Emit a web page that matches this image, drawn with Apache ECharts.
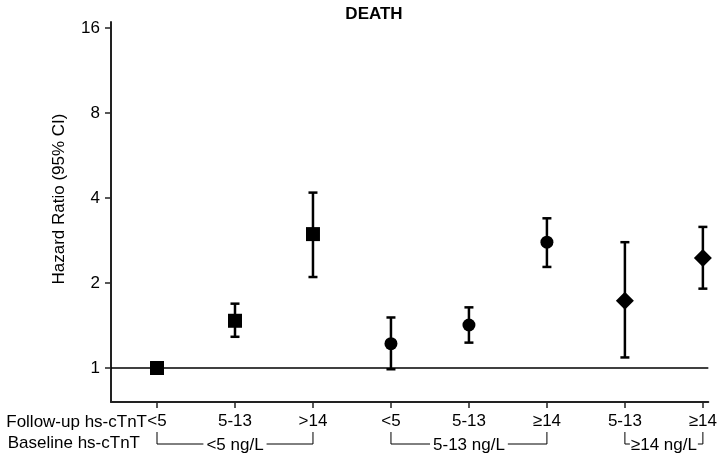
<!DOCTYPE html>
<html>
<head>
<meta charset="utf-8">
<script src="https://cdn.jsdelivr.net/npm/echarts@6/dist/echarts.min.js"></script>
<style>html,body{margin:0;padding:0;background:#fff}#c{width:720px;height:455px}</style>
</head>
<body>
<div id="c"></div>
<script>
// ---- data ----
const xPos = [1, 2, 3, 4, 5, 6, 7, 8];
const followUpLabels = ['<5', '5-13', '>14', '<5', '5-13', '≥14', '5-13', '≥14'];
const hazardRatio = [1.00, 1.47, 2.98, 1.22, 1.42, 2.79, 1.73, 2.45];
const ciLower = [null, 1.29, 2.10, 0.99, 1.23, 2.28, 1.09, 1.91];
const ciUpper = [null, 1.69, 4.18, 1.51, 1.64, 3.39, 2.79, 3.16];
const baselineGroup = [0, 0, 0, 1, 1, 1, 2, 2];
const baselineLabels = ['<5 ng/L', '5-13 ng/L', '≥14 ng/L'];
const groupSymbols = ['rect', 'circle', 'diamond'];
const groupSizes = [14, 13, 18];
const yTickValues = [1, 2, 4, 8, 16];

const FONT = 'Liberation Sans, Arial, sans-serif';
const FS = 17;
const chart = echarts.init(document.getElementById('c'), null, {renderer: 'canvas'});

const scatterSeries = [0, 1, 2].map(g => ({
  type: 'scatter',
  symbol: groupSymbols[g],
  symbolSize: groupSizes[g],
  itemStyle: {color: '#000', opacity: 1},
  z: 5,
  data: xPos.map((x, i) => baselineGroup[i] === g ? [x, hazardRatio[i]] : null).filter(d => d),
  markLine: g === 0 ? {
    silent: true, symbol: 'none', label: {show: false},
    lineStyle: {color: '#000', width: 1.5, type: 'solid', opacity: 1},
    data: [{yAxis: 1}]
  } : undefined
}));

const errData = xPos.map((x, i) => ciLower[i] == null ? null : [x, ciLower[i], ciUpper[i]]).filter(d => d);

chart.setOption({
  animation: false,
  title: {
    text: 'DEATH', left: 369, top: 1, textAlign: 'center',
    textStyle: {fontFamily: FONT, fontSize: 17, fontWeight: 'bold', color: '#000'}
  },
  grid: {left: 111, right: 10, top: 22, bottom: 53},
  xAxis: {
    type: 'value', min: 0.41, max: 8.07,
    splitLine: {show: false},
    axisLine: {show: true, lineStyle: {color: '#222', width: 2}},
    axisTick: {show: true, length: 6, lineStyle: {color: '#222', width: 1.5}, customValues: xPos},
    axisLabel: {
      customValues: xPos, margin: 11, color: '#000', fontFamily: FONT, fontSize: FS,
      formatter: v => followUpLabels[Math.round(v) - 1] || ''
    }
  },
  yAxis: {
    type: 'log', logBase: 2, min: 0.758, max: 16.8,
    splitLine: {show: false},
    axisLine: {show: true, lineStyle: {color: '#222', width: 2}},
    axisTick: {show: true, length: 6, lineStyle: {color: '#222', width: 1.5}, customValues: yTickValues},
    axisLabel: {customValues: yTickValues, margin: 11, color: '#000', fontFamily: FONT, fontSize: FS}
  },
  series: [
    {
      type: 'custom',
      z: 4,
      encode: {x: 0, y: [1, 2]},
      data: errData,
      renderItem: function (params, api) {
        const lo = api.coord([api.value(0), api.value(1)]);
        const hi = api.coord([api.value(0), api.value(2)]);
        const cw = 4.5;
        const style = {stroke: '#000', lineWidth: 2.5};
        return {
          type: 'group',
          children: [
            {type: 'line', shape: {x1: lo[0], y1: lo[1], x2: hi[0], y2: hi[1]}, style: style},
            {type: 'line', shape: {x1: lo[0] - cw, y1: lo[1], x2: lo[0] + cw, y2: lo[1]}, style: style},
            {type: 'line', shape: {x1: hi[0] - cw, y1: hi[1], x2: hi[0] + cw, y2: hi[1]}, style: style}
          ]
        };
      }
    }
  ].concat(scatterSeries)
});

// ---- annotations: axis title, row labels, baseline brackets ----
const ctx = document.createElement('canvas').getContext('2d');
ctx.font = FS + 'px ' + FONT;
const px = v => chart.convertToPixel({xAxisIndex: 0}, v);
const textStyle = (extra) => Object.assign({fontFamily: FONT, fontSize: FS, fill: '#000'}, extra);
const graphics = [
  {type: 'text', x: 59, y: 199, rotation: Math.PI / 2,
   style: textStyle({text: 'Hazard Ratio (95% CI)', align: 'center', verticalAlign: 'middle'})},
  {type: 'text', x: 147, y: 422,
   style: textStyle({text: 'Follow-up hs-cTnT', align: 'right', verticalAlign: 'middle'})},
  {type: 'text', x: 140, y: 443,
   style: textStyle({text: 'Baseline hs-cTnT', align: 'right', verticalAlign: 'middle'})}
];
const rowY = 444, topY = 432;
baselineLabels.forEach((lab, g) => {
  const idx = xPos.filter((x, i) => baselineGroup[i] === g);
  const x1 = px(idx[0]), x2 = px(idx[idx.length - 1]);
  const cx = (x1 + x2) / 2;
  const tw = ctx.measureText(lab).width;
  const gap = 3;
  const lEnd = Math.max(x1 + 5, cx - tw / 2 - gap);
  const rStart = Math.min(x2 - 5, cx + tw / 2 + gap);
  graphics.push({type: 'text', x: cx, y: rowY + 1, style: textStyle({text: lab, align: 'center', verticalAlign: 'middle'})});
  graphics.push({type: 'polyline', shape: {points: [[x1, topY], [x1, rowY], [lEnd, rowY]]},
    style: {stroke: '#000', lineWidth: 1, fill: null}});
  graphics.push({type: 'polyline', shape: {points: [[rStart, rowY], [x2, rowY], [x2, topY]]},
    style: {stroke: '#000', lineWidth: 1, fill: null}});
});
chart.setOption({graphic: graphics});
</script>
</body>
</html>
